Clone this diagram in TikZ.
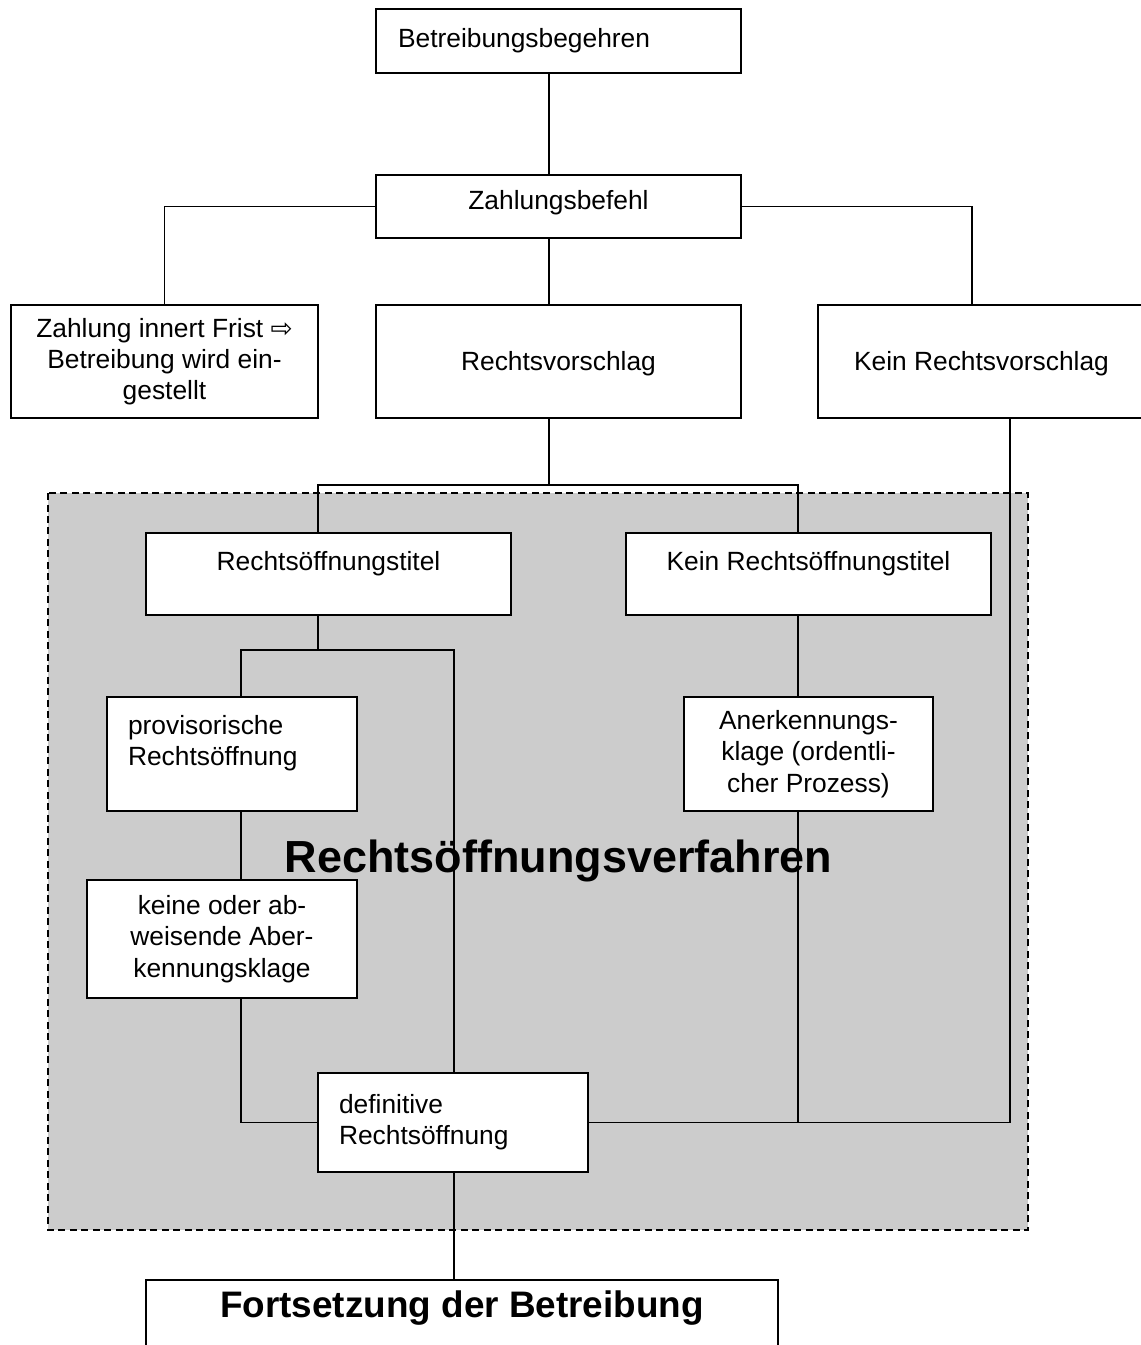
\documentclass[tikz,border=0pt]{standalone}
\usepackage{fontspec}
\setmainfont{Liberation Sans}
\newfontfamily\pfeilfont{DejaVu Sans}
\definecolor{verfahrengrau}{HTML}{CCCCCC}
\newcommand{\kastenschrift}{\fontsize{15pt}{17.8pt}\selectfont}

\tikzset{
  kasten/.style={draw, line width=1.1pt, fill=white, align=center, font=\kastenschrift, inner sep=0pt},
  linie/.style={line width=1.1pt},
}

\begin{document}
\begin{tikzpicture}[x=0.02cm, y=-0.02cm]
        \useasboundingbox (0,0) rectangle (1141,1345);

        % Verfahrensbereich
        \draw[fill=verfahrengrau, line width=1.1pt, dash pattern=on 0.14cm off 0.09cm] (48,493) rectangle (1028,1230);
        \node[font=\fontsize{25.6pt}{30pt}\selectfont\bfseries] (verfahren) at (558.5,861) {Rechtsöffnungsverfahren};

        % Kaesten oben
        \node[kasten, minimum width=7.3cm, minimum height=1.28cm, align=left, text width=6.42cm, inner xsep=0.44cm] (begehren) at (558.5,41) {Betreibungsbegehren};
        \node[kasten, minimum width=7.3cm, minimum height=1.26cm, text height=0.4cm, text depth=0.29cm] (befehl) at (558.5,206.5) {Zahlungsbefehl};
        \node[kasten, minimum width=6.14cm, minimum height=2.26cm] (frist) at (164.5,361.5) {Zahlung innert Frist {\pfeilfont ⇨}\\Betreibung wird ein-\\gestellt};
        \node[kasten, minimum width=7.3cm, minimum height=2.26cm, text height=0.4cm, text depth=0.05cm] (vorschlag) at (558.5,361.5) {Rechtsvorschlag};
        \node[kasten, minimum width=6.54cm, minimum height=2.26cm, text height=0.4cm, text depth=0.05cm] (keinvorschlag) at (981.5,361.5) {Kein Rechtsvorschlag};

        % Rechtsoeffnungstitel
        \node[kasten, minimum width=7.3cm, minimum height=1.64cm, text height=0.4cm, text depth=0.56cm] (titelja) at (328.5,574) {Rechtsöffnungstitel};
        \node[kasten, minimum width=7.3cm, minimum height=1.64cm, text height=0.4cm, text depth=0.56cm] (titelnein) at (808.5,574) {Kein Rechtsöffnungstitel};

        % Verfahren
        \node[kasten, minimum width=5cm, minimum height=2.28cm, align=left, text width=4.16cm, inner xsep=0.42cm, text height=0.4cm, text depth=1.18cm] (provisorisch) at (232,754) {provisorische\\Rechtsöffnung};
        \node[kasten, minimum width=5.4cm, minimum height=2.36cm] (aberkennung) at (222,939) {keine oder ab-\\weisende Aber-\\kennungsklage};
        \node[kasten, minimum width=4.98cm, minimum height=2.28cm] (anerkennung) at (808.5,754) {Anerkennungs-\\klage (ordentli-\\cher Prozess)};
        \node[kasten, minimum width=5.4cm, minimum height=1.98cm, align=left, text width=4.56cm, inner xsep=0.42cm] (definitiv) at (453,1122.5) {definitive\\Rechtsöffnung};

        % Fortsetzung
        \node[kasten, minimum width=12.64cm, minimum height=1.6cm, font=\fontsize{21pt}{25pt}\selectfont\bfseries, text height=0.54cm, text depth=0.66cm] (fortsetzung) at (462,1320) {Fortsetzung der Betreibung};

        % Spalten der Linien
        \coordinate (spalteA) at (549,0);
        \coordinate (spalteB) at (318,0);
        \coordinate (spalteC) at (798,0);
        \coordinate (spalteD) at (241,0);
        \coordinate (spalteE) at (454,0);
        \coordinate (spalteF) at (1010,0);
        \coordinate (spalteG) at (972,0);
        \coordinate (verzweigung) at (549,485);
        \coordinate (gabel) at (318,650);

        % Verbindungen oben
        \draw[linie] (begehren.south -| spalteA) -- (befehl.north -| spalteA);
        \draw[linie] (befehl.south -| spalteA) -- (vorschlag.north -| spalteA);
        \draw[linie] (befehl.west) -| (frist.north);
        \draw[linie] (befehl.east) -| (keinvorschlag.north -| spalteG);

        % Verbindungen Rechtsoeffnung
        \draw[linie] (vorschlag.south -| spalteA) -- (verzweigung);
        \draw[linie] (titelja.north -| spalteB) |- (verzweigung) -| (titelnein.north -| spalteC);
        \draw[linie] (titelja.south -| spalteB) -- (gabel);
        \draw[linie] (provisorisch.north -| spalteD) |- (gabel) -| (definitiv.north -| spalteE);
        \draw[linie] (provisorisch.south -| spalteD) -- (aberkennung.north -| spalteD);
        \draw[linie] (aberkennung.south -| spalteD) |- (definitiv.west);
        \draw[linie] (titelnein.south -| spalteC) -- (anerkennung.north -| spalteC);
        \draw[linie] (anerkennung.south -| spalteC) -- (spalteC |- definitiv.east);
        \draw[linie] (keinvorschlag.south -| spalteF) |- (definitiv.east);

        % Fortsetzung
        \draw[linie] (definitiv.south -| spalteE) -- (fortsetzung.north -| spalteE);

    \end{tikzpicture}
\end{document}
